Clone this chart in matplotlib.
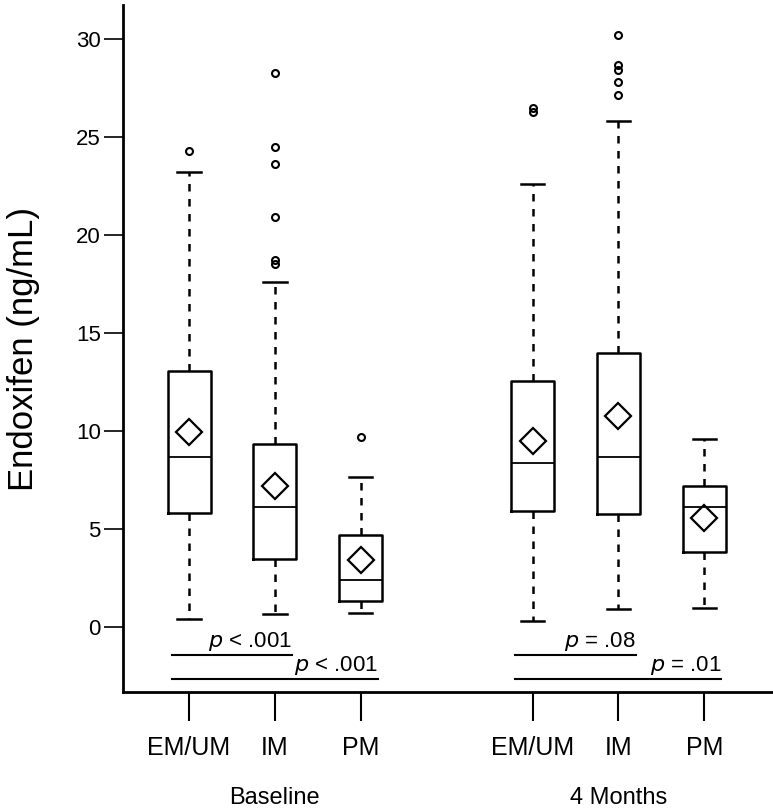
import matplotlib.pyplot as plt
import numpy as np

plt.rcParams["font.family"] = ["Liberation Sans", "DejaVu Sans"]

# box statistics (ng/mL)
groups = ["EM/UM", "IM", "PM", "EM/UM", "IM", "PM"]
positions = [1, 2, 3, 5, 6, 7]
q1 = [5.81, 3.49, 1.32, 5.92, 5.74, 3.83]
med = [8.66, 6.10, 2.39, 8.36, 8.66, 6.10]
q3 = [13.05, 9.34, 4.67, 12.53, 13.96, 7.18]
mean = [9.95, 7.18, 3.42, 9.50, 10.75, 5.58]
whislo = [0.39, 0.68, 0.73, 0.30, 0.91, 0.98]
whishi = [23.2, 17.6, 7.63, 22.6, 25.8, 9.59]
fliers = [
    [24.3],
    [28.25, 24.5, 23.6, 20.9, 18.7, 18.5],
    [9.68],
    [26.47, 26.3],
    [30.2, 28.7, 28.4, 27.8, 27.15],
    [],
]

time_labels = ["Baseline", "4 Months"]
time_centers = [2, 6]
# comparisons: (start, end, text, y)
comparisons = [
    (1, 2, "< .001", -1.41),
    (1, 3, "< .001", -2.67),
    (5, 6, "= .08", -1.41),
    (5, 7, "= .01", -2.67),
]

stats = []
for i in range(len(groups)):
    stats.append(dict(q1=q1[i], med=med[i], q3=q3[i], mean=mean[i],
                      whislo=whislo[i], whishi=whishi[i], fliers=fliers[i]))

fig = plt.figure(figsize=(7.73, 8.08), dpi=100)
ax = fig.add_axes([0.159, 0.1436, 0.841, 0.85])

ax.bxp(stats, positions=positions, widths=0.5, showmeans=True, patch_artist=False,
       boxprops=dict(color="black", linewidth=1.8),
       medianprops=dict(color="black", linewidth=1.3),
       whiskerprops=dict(color="black", linewidth=1.8, linestyle=(0, (3, 3))),
       capprops=dict(color="black", linewidth=1.8),
       capwidths=0.27,
       meanprops=dict(marker="D", markerfacecolor="none", markeredgecolor="black",
                      markersize=13, markeredgewidth=1.6),
       flierprops=dict(marker="o", markerfacecolor="none", markeredgecolor="black",
                       markersize=5, markeredgewidth=1.5))

for start, end, txt, yy in comparisons:
    ax.plot([start - 0.2, end + 0.2], [yy, yy], color="black", linewidth=1.5)
    ax.text(end + 0.2, yy + 0.1, r"$\it{p}$ " + txt, ha="right", va="bottom", fontsize=16)

ax.set_xlim(0.23, 7.8)
ax.set_ylim(-3.32, 31.73)
ax.set_yticks([0, 5, 10, 15, 20, 25, 30])
ax.set_xticks(positions)
ax.set_xticklabels(groups, fontsize=18)
ax.tick_params(axis="y", labelsize=16, length=14, width=1.2, pad=2)
ax.tick_params(axis="x", length=21, width=1.5, pad=11)
for side in ["top", "right"]:
    ax.spines[side].set_visible(False)
for side in ["left", "bottom"]:
    ax.spines[side].set_linewidth(2)
ax.set_ylabel("Endoxifen (ng/mL)", fontsize=25, labelpad=26)

for label, c in zip(time_labels, time_centers):
    ax.text(c, -0.154, label, transform=ax.get_xaxis_transform(), ha="center", va="center",
            fontsize=17)

fig.savefig("out.png", dpi=100)
